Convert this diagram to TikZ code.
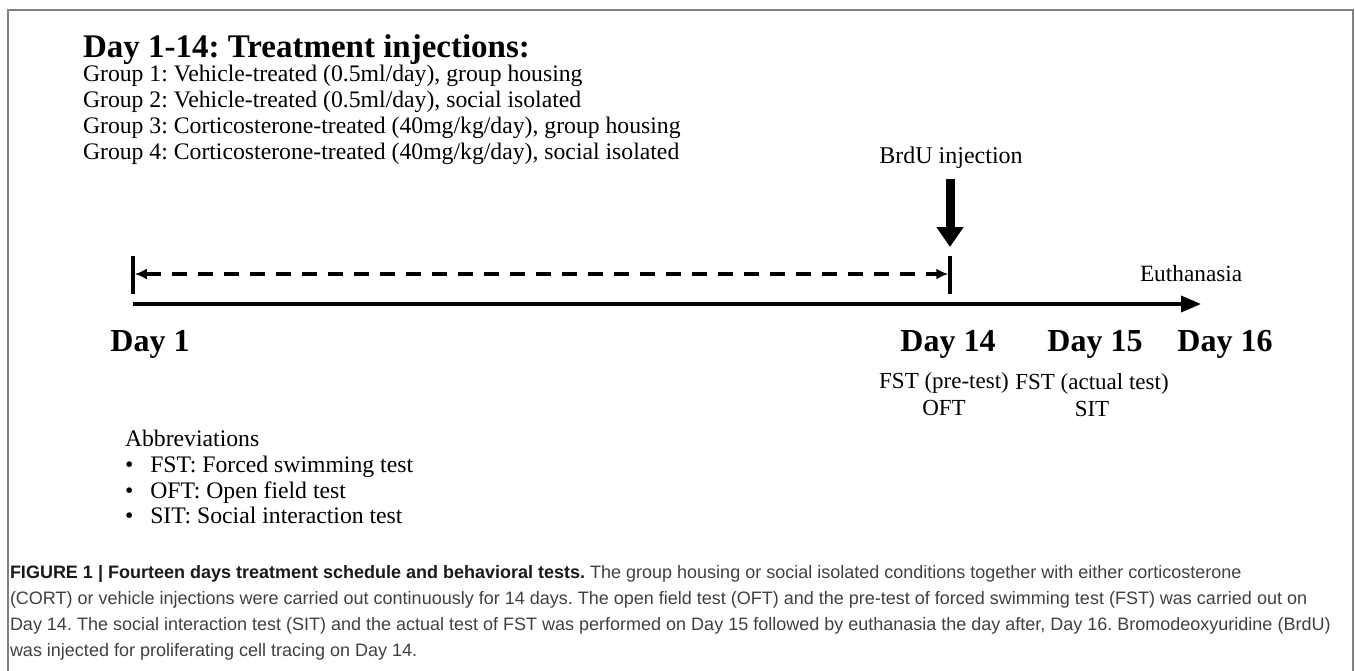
\documentclass[tikz,border=0pt]{standalone}
\usepackage{fontspec}
\setmainfont{Liberation Serif}
\newfontfamily\capfont{Liberation Sans}
\usetikzlibrary{arrows.meta}
\begin{document}
\frenchspacing
\begin{tikzpicture}[x=1pt,y=-1pt,
  txt/.style={inner sep=0pt,outer sep=0pt,anchor=base west,font=\fontsize{23.7}{27}\selectfont},
  ctxt/.style={inner sep=0pt,outer sep=0pt,anchor=base,font=\fontsize{23}{27}\selectfont},
  day/.style={inner sep=0pt,outer sep=0pt,anchor=base,font=\fontsize{32}{36}\bfseries\selectfont},
  captxt/.style={inner sep=0pt,outer sep=0pt,anchor=base west,font=\capfont\fontsize{18}{21}\selectfont,text=black!75},
  tline/.style={line width=3.5pt,black},
]
\useasboundingbox (0,0) rectangle (1355,670);
\draw[gray,line width=1.5pt] (8,672) -- (8,10) -- (1353,10) -- (1353,672);

\node[txt,font=\fontsize{33}{37}\bfseries\selectfont] (title) at (83,57) {Day 1-14: Treatment injections:};
\node[txt] (g1) at (83,81) {Group 1: Vehicle-treated (0.5ml/day), group housing};
\node[txt] (g2) at (83,107) {Group 2: Vehicle-treated (0.5ml/day), social isolated};
\node[txt] (g3) at (83,133) {Group 3: Corticosterone-treated (40mg/kg/day), group housing};
\node[txt] (g4) at (83,159) {Group 4: Corticosterone-treated (40mg/kg/day), social isolated};

\node[ctxt,font=\fontsize{24}{27}\selectfont] (brdu) at (951,163) {BrdU injection};
\coordinate (ba) at (950,179);
\coordinate (bb) at (950,247);
\draw[line width=9pt,-{Triangle[width=26pt,length=20pt]}] (ba) -- (bb);

\coordinate (t1a) at (133,256);
\coordinate (t1b) at (133,294);
\coordinate (t14a) at (950,256);
\coordinate (t14b) at (950,294);
\draw[tline] (t1a) -- (t1b);
\draw[tline] (t14a) -- (t14b);
\coordinate (da) at (134.75,274);
\coordinate (db) at (948.25,274);
\draw[line width=3.5pt,dash pattern=on 15pt off 11pt,{Latex[length=12pt,width=11pt]}-{Latex[length=12pt,width=11pt]}] (da) -- (db);

\coordinate (ts) at (133,304);
\coordinate (te) at (1201,304);
\draw[tline,-{Triangle[length=20pt,width=16pt]}] (ts) -- (te);

\node[txt,font=\fontsize{23.3}{27}\selectfont] (euth) at (1140,281) {Euthanasia};

\node[day] (d1) at (150,351) {Day 1};
\node[day] (d14) at (948,351) {Day 14};
\node[day] (d15) at (1095,351) {Day 15};
\node[day] (d16) at (1225,351) {Day 16};

\node[ctxt] (f14) at (944,388) {FST (pre-test)};
\node[ctxt] (o14) at (944,415) {OFT};
\node[ctxt] (f15) at (1092,389) {FST (actual test)};
\node[ctxt] (s15) at (1092,416) {SIT};

\node[txt] (abbr) at (125,446) {Abbreviations};
\node[txt] (b1) at (125,472) {\textbullet\hspace{17pt}FST: Forced swimming test};
\node[txt] (b2) at (125,498) {\textbullet\hspace{17pt}OFT: Open field test};
\node[txt] (b3) at (125,523) {\textbullet\hspace{17pt}SIT: Social interaction test};

\node[captxt] (c1) at (10,578) {\textbf{\color{black!90}FIGURE 1 | Fourteen days treatment schedule and behavioral tests.} The group housing or social isolated conditions together with either corticosterone};
\node[captxt] (c2) at (10,604) {(CORT) or vehicle injections were carried out continuously for 14 days. The open field test (OFT) and the pre-test of forced swimming test (FST) was carried out on};
\node[captxt] (c3) at (10,630) {Day 14. The social interaction test (SIT) and the actual test of FST was performed on Day 15 followed by euthanasia the day after, Day 16. Bromodeoxyuridine (BrdU)};
\node[captxt] (c4) at (10,656) {was injected for proliferating cell tracing on Day 14.};
\end{tikzpicture}
\end{document}
